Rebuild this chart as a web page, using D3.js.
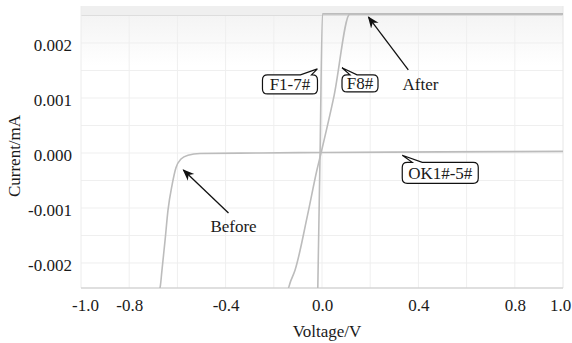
<!DOCTYPE html>
<html lang="en">
<head>
  <meta charset="UTF-8">
  <title>I-V curves</title>
  <script src="https://d3js.org/d3.v7.min.js"></script>
  <style>
    body { margin: 0; background: #fff; }
    text { font-family: "Liberation Serif", "Times New Roman", serif; fill: #1a1a1a; }
  </style>
</head>
<body>
  <svg id="chart" width="572" height="343"></svg>
  <script>
    // data (voltage in V, current in mA)
    const beforeV = [-0.69, -0.672, -0.664, -0.651, -0.639, -0.622, -0.606, -0.585, -0.556, -0.506, -0.26, 0.0, 0.5, 1.0];
    const beforeI = [-0.0026, -0.00245, -0.00213, -0.00158, -0.00104, -0.00058, -0.00027, -0.00011, -0.00004, -0.00001, 0.0, 0.00001, 0.00002, 0.00003];
    const f8V = [-0.23, -0.142, -0.13, -0.112, -0.06, -0.021, -0.004, 0.05, 0.116, 1.0];
    const f8I = [-0.00247, -0.00247, -0.00233, -0.00213, -0.00113, -0.00031, 0.0, 0.00104, 0.00253, 0.00253];
    const f17V = [-0.018, -0.008, 0.002, 1.0];
    const f17I = [-0.0026, 0.0, 0.00253, 0.00253];

    const xTicks = [-1.0, -0.8, -0.4, 0.0, 0.4, 0.8, 1.0];
    const yTicks = [0.002, 0.001, 0.0, -0.001, -0.002];

    const svg = d3.select('svg#chart');
    const margins = { top: 6, right: 9, bottom: 55, left: 81 };
    const width = +svg.attr('width');
    const height = +svg.attr('height');
    const chartWidth = width - margins.left - margins.right;
    const chartHeight = height - margins.top - margins.bottom;

    const xScale = d3.scaleLinear().domain([-1, 1]).range([0, chartWidth]);
    const yScale = d3.scaleLinear().domain([-0.002455, 0.002673]).range([chartHeight, 0]);

    const defs = svg.append('defs');
    const grad = defs.append('linearGradient').attr('id', 'topfade')
      .attr('x1', 0).attr('y1', 0).attr('x2', 0).attr('y2', 1);
    grad.append('stop').attr('offset', '0%').attr('stop-color', '#f2f2f2');
    grad.append('stop').attr('offset', '100%').attr('stop-color', '#ffffff');
    defs.append('clipPath').attr('id', 'clip').append('rect')
      .attr('width', chartWidth).attr('height', chartHeight);
    defs.append('marker').attr('id', 'arrow')
      .attr('viewBox', '0 0 10 10').attr('refX', 9).attr('refY', 5)
      .attr('markerWidth', 9).attr('markerHeight', 9).attr('orient', 'auto')
      .append('path').attr('d', 'M0,1 L10,5 L0,9 L3,5 Z').attr('fill', '#111');

    const chartArea = svg.append('g')
      .attr('transform', `translate(${margins.left},${margins.top})`);

    // shaded band at the top of the plot
    chartArea.append('rect')
      .attr('width', chartWidth).attr('height', 60)
      .attr('fill', 'url(#topfade)');
    chartArea.append('rect')
      .attr('width', chartWidth).attr('height', yScale(0.0025))
      .attr('fill', '#efefef');

    // grid
    d3.range(-0.8, 1.0, 0.2).forEach(v => {
      chartArea.append('line')
        .attr('x1', xScale(v)).attr('x2', xScale(v))
        .attr('y1', 0).attr('y2', chartHeight)
        .attr('stroke', '#efefef');
    });
    d3.range(-4, 6).map(k => k * 0.0005).forEach(v => {
      chartArea.append('line')
        .attr('x1', 0).attr('x2', chartWidth)
        .attr('y1', yScale(v)).attr('y2', yScale(v))
        .attr('stroke', v === 0.0025 ? '#dddddd' : '#efefef');
    });

    // frame
    chartArea.append('line').attr('x1', 0).attr('x2', 0).attr('y1', 0).attr('y2', chartHeight).attr('stroke', '#ececec');
    chartArea.append('line').attr('x1', chartWidth).attr('x2', chartWidth).attr('y1', 0).attr('y2', chartHeight).attr('stroke', '#e6e6e6');
    chartArea.append('line').attr('x1', 0).attr('x2', chartWidth).attr('y1', chartHeight).attr('y2', chartHeight).attr('stroke', '#d4d4d4').style('stroke-width', 1.5);

    // curves
    const line = d3.line().x(d => xScale(d[0])).y(d => yScale(d[1]));
    const curves = [
      d3.zip(beforeV, beforeI),
      d3.zip(f8V, f8I),
      d3.zip(f17V, f17I)
    ];
    curves.forEach(c => {
      chartArea.append('path')
        .attr('d', line.curve(d3.curveMonotoneX)(c))
        .attr('clip-path', 'url(#clip)')
        .attr('fill', 'none')
        .attr('stroke', '#bcbcbc')
        .style('stroke-width', 1.6);
    });

    // axes
    const xAxis = chartArea.append('g')
      .attr('transform', `translate(0,${chartHeight})`)
      .call(d3.axisBottom(xScale).tickValues(xTicks).tickSize(0).tickPadding(11)
        .tickFormat(d => d.toFixed(1)));
    const yAxis = chartArea.append('g')
      .call(d3.axisLeft(yScale).tickValues(yTicks).tickSize(0).tickPadding(9)
        .tickFormat(d => d.toFixed(3)));
    [xAxis, yAxis].forEach(a => {
      a.select('.domain').remove();
      a.selectAll('text').style('font-family', '"Liberation Serif", serif')
        .style('font-size', '17px').attr('fill', '#1a1a1a');
    });
    yAxis.selectAll('text').attr('dy', '0.42em');
    xAxis.selectAll('text').filter(d => d === -1).attr('dx', 4);
    xAxis.selectAll('text').filter(d => d === 1).attr('dx', -3);

    svg.append('text')
      .attr('x', margins.left + xScale(0) + 5).attr('y', 337)
      .attr('text-anchor', 'middle').style('font-size', '17px')
      .text('Voltage/V');
    svg.append('text')
      .attr('transform', 'translate(20,156) rotate(-90)')
      .attr('text-anchor', 'middle').style('font-size', '17px')
      .text('Current/mA');

    // arrows with text
    const arrowNotes = [
      { text: 'After', from: [0.358, 0.00151], to: [0.193, 0.00247], at: [0.334, 0.00115] },
      { text: 'Before', from: [-0.388, -0.00109], to: [-0.575, -0.00031], at: [-0.463, -0.00144] }
    ];
    arrowNotes.forEach(n => {
      chartArea.append('line')
        .attr('x1', xScale(n.from[0])).attr('y1', yScale(n.from[1]))
        .attr('x2', xScale(n.to[0])).attr('y2', yScale(n.to[1]))
        .attr('stroke', '#111').style('stroke-width', 1.3)
        .attr('marker-end', 'url(#arrow)');
      chartArea.append('text')
        .attr('x', xScale(n.at[0])).attr('y', yScale(n.at[1]))
        .style('font-size', '17px').text(n.text);
    });

    // callout boxes: box top-left in data units, size in px, tail base offsets and tip
    const callouts = [
      { text: 'F1-7#', box: [-0.247, 0.00142], w: 55, h: 19, base: [38, 49], tip: [-0.019, 0.00153] },
      { text: 'F8#', box: [0.083, 0.00142], w: 36, h: 17, base: [8, 15], tip: [0.083, 0.00155] },
      { text: 'OK1#-5#', box: [0.333, -0.00017], w: 76, h: 21, base: [10, 20], tip: [0.333, -0.00004] }
    ];
    callouts.forEach(c => {
      const x = xScale(c.box[0]), y = yScale(c.box[1]);
      const tx = xScale(c.tip[0]), ty = yScale(c.tip[1]);
      const r = 5, w = c.w, h = c.h;
      const p = d3.path();
      p.moveTo(x + r, y);
      p.lineTo(x + c.base[0], y);
      p.lineTo(tx, ty);
      p.lineTo(x + c.base[1], y);
      p.lineTo(x + w - r, y);
      p.quadraticCurveTo(x + w, y, x + w, y + r);
      p.lineTo(x + w, y + h - r);
      p.quadraticCurveTo(x + w, y + h, x + w - r, y + h);
      p.lineTo(x + r, y + h);
      p.quadraticCurveTo(x, y + h, x, y + h - r);
      p.lineTo(x, y + r);
      p.quadraticCurveTo(x, y, x + r, y);
      p.closePath();
      chartArea.append('path').attr('d', p.toString())
        .attr('fill', '#fff').attr('stroke', '#111').style('stroke-width', 1.2);
      chartArea.append('text')
        .attr('x', x + w / 2).attr('y', y + h / 2).attr('dy', '0.35em')
        .attr('text-anchor', 'middle').style('font-size', '17px')
        .text(c.text);
    });
  </script>
</body>
</html>
